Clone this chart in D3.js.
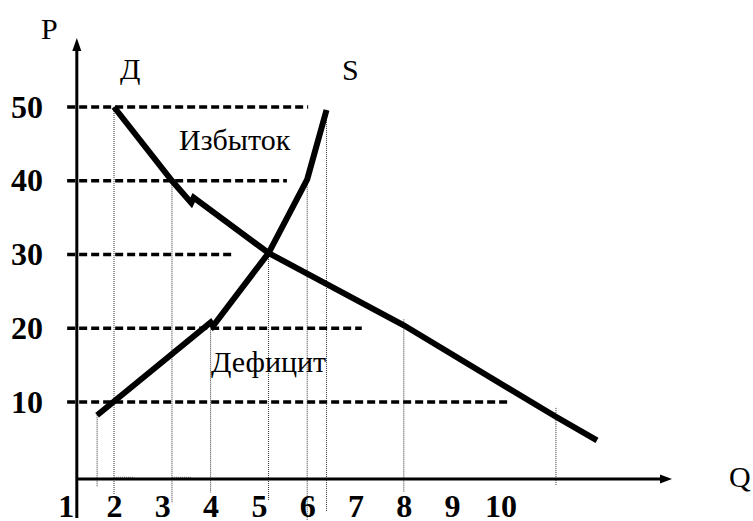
<!DOCTYPE html>
<html>
<head>
<meta charset="utf-8">
<script src="https://cdn.jsdelivr.net/npm/d3@7"></script>
<style>
  html, body { margin: 0; padding: 0; background: #fff; }
  svg { display: block; }
</style>
</head>
<body>
<svg id="chart" width="753" height="521"></svg>
<script>
// ---- data ----
const qTicks = [1, 2, 3, 4, 5, 6, 7, 8, 9, 10];
const pTicks = [10, 20, 30, 40, 50];
// horizontal dashed price levels: end quantity of each dashed line
const dashEndQ = [10.2, 7.13, 4.46, 5.58, 6.02];
// demand curve (Д) points: [Q, P]
const demand = [[2, 50], [3.2, 40], [3.6, 37], [3.65, 37.7], [5.2, 30.2], [8, 20.4], [11.15, 8], [12, 4.8]];
// supply curve (S) points: [Q, P]
const supply = [[1.65, 8.2], [4, 20.8], [4.05, 20.3], [5.2, 30.2], [6, 40.2], [6.4, 49.6]];
// vertical dotted guide lines: [Q, top P, bottom P]
const guides = [[1.65, 8.2, -1.5], [2, 50, -2.6], [3.2, 40, -3.7], [4, 20.8, -2.3], [5.2, 30.2, -3.3],
                [6, 40.2, -6], [6.4, 49.6, -4.9], [8, 21.2, -2.2], [11.15, 9.2, -1.25]];
const axisQ = 1.23;     // quantity where the P axis stands
const axisP = -0.44;    // price where the Q axis stands
const dashStartQ = 1.03;

const SERIF = '"Liberation Serif", "Times New Roman", "DejaVu Serif", serif';

// ---- scales ----
const x = d3.scaleLinear().domain([0, 10]).range([17.4, 500.4]);
const y = d3.scaleLinear().domain([0, 50]).range([475.75, 107]);

const svg = d3.select("#chart");

// vertical dotted guides
svg.append("g").selectAll("line").data(guides).join("line")
  .attr("x1", d => x(d[0])).attr("x2", d => x(d[0]))
  .attr("y1", d => y(d[1])).attr("y2", d => y(d[2]))
  .attr("stroke", "#333").attr("stroke-width", 1).attr("stroke-dasharray", "1,1");

// short grey marks on Q axis
svg.append("g").selectAll("line").data([[2, 2.42], [3.2, 3.6]]).join("line")
  .attr("x1", d => x(d[0])).attr("x2", d => x(d[1]))
  .attr("y1", y(axisP) - 1.5).attr("y2", y(axisP) - 1.5)
  .attr("stroke", "#888").attr("stroke-width", 1.5).attr("stroke-dasharray", "1,1");

// horizontal dashed price lines
svg.append("g").selectAll("line").data(pTicks).join("line")
  .attr("x1", x(dashStartQ)).attr("x2", (d, i) => x(dashEndQ[i]))
  .attr("y1", d => y(d)).attr("y2", d => y(d))
  .attr("stroke", "#000").attr("stroke-width", 3.5).attr("stroke-dasharray", "8,4");

// axes lines with arrows
const ax0 = x(axisQ), ay0 = y(axisP);
const yTop = 38, yBottom = 518, xRight = 672;
svg.append("line").attr("x1", ax0).attr("x2", ax0).attr("y1", yTop + 10).attr("y2", yBottom)
  .attr("stroke", "#000").attr("stroke-width", 3);
svg.append("line").attr("x1", ax0).attr("x2", xRight - 10).attr("y1", ay0).attr("y2", ay0)
  .attr("stroke", "#000").attr("stroke-width", 3);
svg.append("path").attr("d", `M${ax0},${yTop} L${ax0 - 4.5},${yTop + 13} L${ax0 + 4.5},${yTop + 13} Z`).attr("fill", "#000");
svg.append("path").attr("d", `M${xRight},${ay0} L${xRight - 12},${ay0 - 4.5} L${xRight - 12},${ay0 + 4.5} Z`).attr("fill", "#000");

// curves
const line = d3.line().x(d => x(d[0])).y(d => y(d[1]));
svg.append("path").datum(demand).attr("d", line)
  .attr("fill", "none").attr("stroke", "#000").attr("stroke-width", 6).attr("stroke-linejoin", "miter");
svg.append("path").datum(supply).attr("d", line)
  .attr("fill", "none").attr("stroke", "#000").attr("stroke-width", 6).attr("stroke-linejoin", "miter");

// tick labels via d3 axes
const xAxis = svg.append("g").attr("transform", `translate(0,517)`)
  .call(d3.axisBottom(x).tickValues(qTicks).tickSize(0).tickFormat(d3.format("d")));
xAxis.attr("font-family", null).attr("font-size", null);
xAxis.select(".domain").remove();
xAxis.selectAll("text").attr("y", 0).attr("dy", 0)
  .style("font-family", SERIF).style("font-size", "32px").style("font-weight", "bold").attr("fill", "#000");

const yAxis = svg.append("g").attr("transform", "translate(43,0)")
  .call(d3.axisLeft(y).tickValues(pTicks).tickSize(0).tickPadding(0).tickFormat(d3.format("d")));
yAxis.attr("font-family", null).attr("font-size", null);
yAxis.select(".domain").remove();
yAxis.selectAll("text").attr("x", 0).attr("dy", 10)
  .style("font-family", SERIF).style("font-size", "32px").style("font-weight", "bold").attr("fill", "#000");

// labels
const labels = [
  { t: "P", x: 41, y: 39 },
  { t: "Д", x: 120, y: 79 },
  { t: "S", x: 342, y: 80 },
  { t: "Избыток", x: 179, y: 150 },
  { t: "Дефицит", x: 211, y: 372 },
  { t: "Q", x: 729, y: 487 }
];
svg.append("g").selectAll("text").data(labels).join("text")
  .attr("x", d => d.x).attr("y", d => d.y)
  .style("font-family", SERIF).style("font-size", "30px").attr("fill", "#000").text(d => d.t);
</script>
</body>
</html>
